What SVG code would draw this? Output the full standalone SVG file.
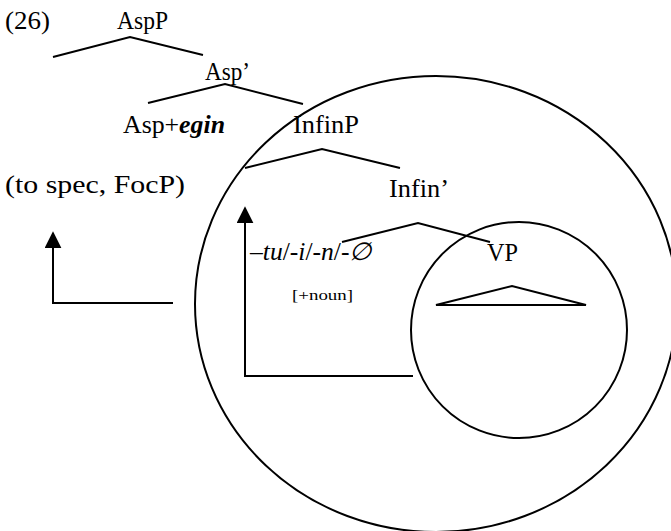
<svg xmlns="http://www.w3.org/2000/svg" width="671" height="531" viewBox="0 0 671 531">
<defs>
<style>
.t{font-family:"Liberation Serif","Times New Roman",serif;font-size:25px;fill:#000}
.s{font-family:"Liberation Serif","Times New Roman",serif;font-size:15px;fill:#000}
.l{fill:none;stroke:#000;stroke-width:2;stroke-linejoin:miter}
</style>
<marker id="ah" viewBox="0 0 10 10" refX="9" refY="5" markerWidth="17" markerHeight="17" markerUnits="userSpaceOnUse" orient="auto">
<path d="M0,0 L10,5 L0,10 Z" fill="#000"/>
</marker>
</defs>
<rect width="671" height="531" fill="#fff"/>
<g id="circles">
<ellipse id="big-circle" cx="436" cy="304" rx="241" ry="228" class="l"/>
<circle id="small-circle" cx="519" cy="330" r="108" class="l"/>
</g>
<g id="connectors">
<polyline class="l" points="53,57 130,37 203,55"/>
<polyline class="l" points="148,103 225,84 303,104"/>
<polyline class="l" points="245,168 322,149 400,168"/>
<polyline class="l" points="342,242 418,223 490,242"/>
<polygon class="l" points="436,305 512,286 586,305"/>
<polyline class="l" points="173,303 53,303 53,233" marker-end="url(#ah)"/>
<polyline class="l" points="413,376 245,376 245,208" marker-end="url(#ah)"/>
</g>
<g id="label-26"><text class="t" x="5" y="29" textLength="45" lengthAdjust="spacingAndGlyphs">(26)</text></g>
<g id="node-AspP"><text class="t" x="117" y="29" textLength="51" lengthAdjust="spacingAndGlyphs">AspP</text></g>
<g id="node-Asp-bar"><text class="t" x="205" y="80" textLength="45" lengthAdjust="spacingAndGlyphs">Asp’</text></g>
<g id="node-Asp-egin"><text class="t" x="123" y="133" textLength="102" lengthAdjust="spacingAndGlyphs">Asp+<tspan font-weight="bold" font-style="italic">egin</tspan></text></g>
<g id="node-InfinP"><text class="t" x="293" y="133" textLength="66" lengthAdjust="spacingAndGlyphs">InfinP</text></g>
<g id="label-focp"><text class="t" x="5" y="193" textLength="180" lengthAdjust="spacingAndGlyphs">(to spec, FocP)</text></g>
<g id="node-Infin-bar"><text class="t" x="389" y="197" textLength="60" lengthAdjust="spacingAndGlyphs">Infin’</text></g>
<g id="node-suffix"><text class="t" x="250" y="260" textLength="122" lengthAdjust="spacingAndGlyphs">–<tspan font-style="italic">tu</tspan>/-<tspan font-style="italic">i</tspan>/-<tspan font-style="italic">n</tspan>/-<tspan font-style="italic">∅</tspan></text></g>
<g id="label-noun"><text class="s" x="292" y="300" textLength="61" lengthAdjust="spacingAndGlyphs">[+noun]</text></g>
<g id="node-VP"><text class="t" x="487" y="261" textLength="31" lengthAdjust="spacingAndGlyphs">VP</text></g>
</svg>
